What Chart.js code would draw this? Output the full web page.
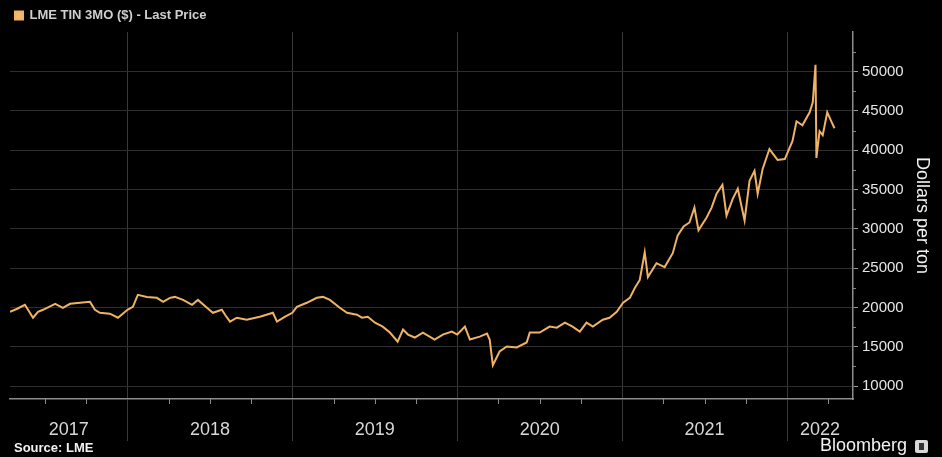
<!DOCTYPE html>
<html>
<head>
<meta charset="utf-8">
<script src="https://cdn.jsdelivr.net/npm/chart.js@4/dist/chart.umd.min.js"></script>
<style>
  html, body { margin: 0; padding: 0; background: #000; }
  #wrap { width: 942px; height: 457px; }
</style>
</head>
<body>
<div id="wrap"><canvas id="c" width="942" height="457"></canvas></div>
<script>
// ---- data ----
const seriesLabel = 'LME TIN 3MO ($) - Last Price';
const dates = [
  '2017-04-16','2017-05-02','2017-05-19','2017-06-06','2017-06-17','2017-06-28','2017-07-25','2017-08-11','2017-08-27','2017-09-18','2017-10-10','2017-10-21','2017-11-01','2017-11-23','2017-12-11',
  '2018-01-01','2018-01-13','2018-01-24','2018-02-13','2018-03-07','2018-03-21','2018-04-05','2018-04-16','2018-05-04','2018-05-24','2018-06-06','2018-06-26','2018-07-09','2018-07-29','2018-08-05','2018-08-16','2018-08-31','2018-09-22','2018-10-21','2018-11-19','2018-11-28','2018-12-16',
  '2019-01-01','2019-01-11','2019-02-02','2019-02-24','2019-03-10','2019-03-25','2019-04-16','2019-05-02','2019-05-24','2019-06-04','2019-06-17','2019-07-03','2019-07-20','2019-08-05','2019-08-22','2019-09-03','2019-09-14','2019-09-29','2019-10-17','2019-11-12','2019-11-30','2019-12-20',
  '2020-01-01','2020-01-18','2020-01-29','2020-02-20','2020-03-07','2020-03-13','2020-03-20','2020-04-04','2020-04-20','2020-05-12','2020-06-03','2020-06-10','2020-07-02','2020-07-24','2020-08-09','2020-08-27','2020-09-13','2020-09-29','2020-10-14','2020-10-28','2020-11-19','2020-12-04','2020-12-20',
  '2021-01-03','2021-01-18','2021-01-29','2021-02-09','2021-02-20','2021-02-27','2021-03-18','2021-04-05','2021-04-23','2021-05-04','2021-05-17','2021-05-30','2021-06-10','2021-06-19','2021-07-07','2021-07-18','2021-07-29','2021-08-11','2021-08-20','2021-09-03','2021-09-14','2021-09-29','2021-10-10','2021-10-21','2021-10-28','2021-11-08','2021-11-23','2021-12-11','2021-12-27',
  '2022-01-13','2022-01-22','2022-02-04','2022-02-20','2022-02-27','2022-03-05','2022-03-07','2022-03-14','2022-03-21','2022-03-31','2022-04-10','2022-04-16'
];
const prices = [
  19460,19840,20340,18700,19460,19710,20470,19960,20470,20600,20720,19710,19330,19210,18700,
  19710,20090,21610,21350,21230,20720,21230,21350,20970,20340,20970,19960,19330,19710,19080,18200,18700,18450,18830,19330,18200,18830,
  19330,20090,20600,21230,21350,20970,19960,19330,19080,18700,18830,18070,17570,16810,15670,17190,16560,16180,16810,15930,16560,16940,
  16560,17570,15930,16300,16680,15930,12650,14410,15040,14920,15550,16810,16810,17570,17440,18070,17570,16940,18070,17570,18450,18700,19460,
  20600,21230,22490,23500,27030,23880,25640,25140,26910,29180,30310,30820,32710,29810,31450,32710,34480,35610,31700,33850,35110,31070,36120,37380,34480,37630,40160,38770,38890,
  41170,43690,43190,44830,46090,50880,39020,42430,41920,44830,43560,42810
];
const yearLabels = ['2017','2018','2019','2020','2021','2022'];
const yTickValues = [10000,15000,20000,25000,30000,35000,40000,45000,50000];
const yMin = 8360, yMax = 55050;
const xMaxYear = 2022.40;
const yAxisTitle = 'Dollars per ton';
const sourceText = 'Source: LME';
const brandText = 'Bloomberg';

// ---- helpers ----
function toYear(s) {
  const [y, m, d] = s.split('-').map(Number);
  const start = Date.UTC(y, 0, 1), next = Date.UTC(y + 1, 0, 1);
  return y + (Date.UTC(y, m - 1, d) - start) / (next - start);
}
const points = dates.map((d, i) => ({ x: toYear(d), y: prices[i] }));
const xMin = points[0].x;

const FONT = "'Liberation Sans', Arial, sans-serif";
Chart.defaults.font.family = FONT;

const extras = {
  id: 'extras',
  beforeDraw(chart) {
    const c = chart.ctx;
    c.save();
    c.fillStyle = '#000';
    c.fillRect(0, 0, chart.width, chart.height);
    c.restore();
  },
  afterDraw(chart) {
    const c = chart.ctx;
    const xs = chart.scales.x, ys = chart.scales.y, ca = chart.chartArea;
    c.save();
    c.strokeStyle = '#8a8a8a';
    c.lineWidth = 1;
    // quarterly minor ticks on x axis
    for (let yr = 2017; yr <= 2022; yr++) {
      for (const q of [0.25, 0.5, 0.75]) {
        const v = yr + q;
        if (v <= xs.min || v >= xs.max) continue;
        const px = Math.round(xs.getPixelForValue(v)) + 0.5;
        c.beginPath(); c.moveTo(px, ca.bottom); c.lineTo(px, ca.bottom + 5); c.stroke();
      }
    }
    // minor ticks on y axis
    for (let v = 7500; v <= 55000; v += 5000) {
      if (v <= ys.min || v >= ys.max) continue;
      const py = Math.round(ys.getPixelForValue(v)) + 0.5;
      c.beginPath(); c.moveTo(ca.right, py); c.lineTo(ca.right + 3, py); c.stroke();
    }
    // footer texts
    c.fillStyle = '#f2f2f2';
    c.textBaseline = 'middle';
    c.textAlign = 'left';
    c.font = 'bold 13px ' + FONT;
    c.fillText(sourceText, 14, 448);
    c.textAlign = 'right';
    c.font = '18px ' + FONT;
    c.fillText(brandText, 907, 446);
    // small logo box
    c.fillStyle = '#d8d8d8';
    c.beginPath();
    if (c.roundRect) c.roundRect(915, 440, 13, 13, 2); else c.rect(915, 440, 13, 13);
    c.fill();
    c.fillStyle = '#333';
    c.fillRect(919, 443, 5, 7);
    c.restore();
  }
};

new Chart(document.getElementById('c'), {
  type: 'line',
  data: {
    datasets: [{
      label: seriesLabel,
      data: points,
      borderColor: '#f0b265',
      backgroundColor: '#f2b870',
      borderWidth: 2,
      pointRadius: 0,
      tension: 0
    }]
  },
  options: {
    responsive: false,
    animation: false,
    devicePixelRatio: 1,
    layout: { padding: { left: 10, right: 3, top: 4, bottom: 0 } },
    plugins: {
      legend: {
        display: true,
        position: 'top',
        align: 'start',
        labels: {
          boxWidth: 8, boxHeight: 8, padding: 5,
          color: '#cfcfcf',
          font: { size: 13, weight: 'bold', family: FONT }
        }
      },
      tooltip: { enabled: false }
    },
    scales: {
      x: {
        type: 'linear',
        position: 'bottom',
        min: xMin,
        max: xMaxYear,
        afterBuildTicks(axis) {
          const vals = [];
          yearLabels.forEach((lab, i) => {
            const yr = 2017 + i;
            const a = Math.max(axis.min, yr), b = Math.min(axis.max, yr + 1);
            if (yr > axis.min && yr < axis.max) vals.push(yr);
            vals.push((a + b) / 2);
          });
          axis.ticks = vals.sort((p, q) => p - q).map(v => ({ value: v }));
        },
        afterFit(axis) { axis.height = 58; },
        ticks: {
          autoSkip: false,
          maxRotation: 0,
          padding: -22,
          color: '#d8d8d8',
          font: { size: 18, family: FONT },
          callback(v) {
            if (Number.isInteger(v)) return '';
            return yearLabels[Math.floor(v) - 2017];
          }
        },
        grid: {
          drawTicks: true,
          tickLength: 42,
          color: ctx => (ctx.tick && Number.isInteger(ctx.tick.value)) ? '#3a3a3a' : 'rgba(0,0,0,0)',
          tickColor: ctx => (ctx.tick && Number.isInteger(ctx.tick.value)) ? '#3a3a3a' : 'rgba(0,0,0,0)'
        },
        border: { display: true, color: '#8c8c8c', width: 1.5 }
      },
      y: {
        type: 'linear',
        position: 'right',
        min: yMin,
        max: yMax,
        afterBuildTicks(axis) { axis.ticks = yTickValues.map(v => ({ value: v })); },
        afterFit(axis) { axis.width = 86; },
        ticks: {
          padding: 4,
          color: '#e6e6e6',
          font: { size: 15, family: FONT },
          callback: v => String(v)
        },
        grid: {
          color: '#2e2e2e',
          tickColor: '#9a9a9a',
          tickLength: 5
        },
        border: { display: true, color: '#8c8c8c', width: 1.5 },
        title: {
          display: true,
          text: yAxisTitle,
          color: '#f2f2f2',
          font: { size: 18, family: FONT },
          padding: { top: 6, bottom: 0 }
        }
      }
    }
  },
  plugins: [extras]
});
</script>
</body>
</html>
